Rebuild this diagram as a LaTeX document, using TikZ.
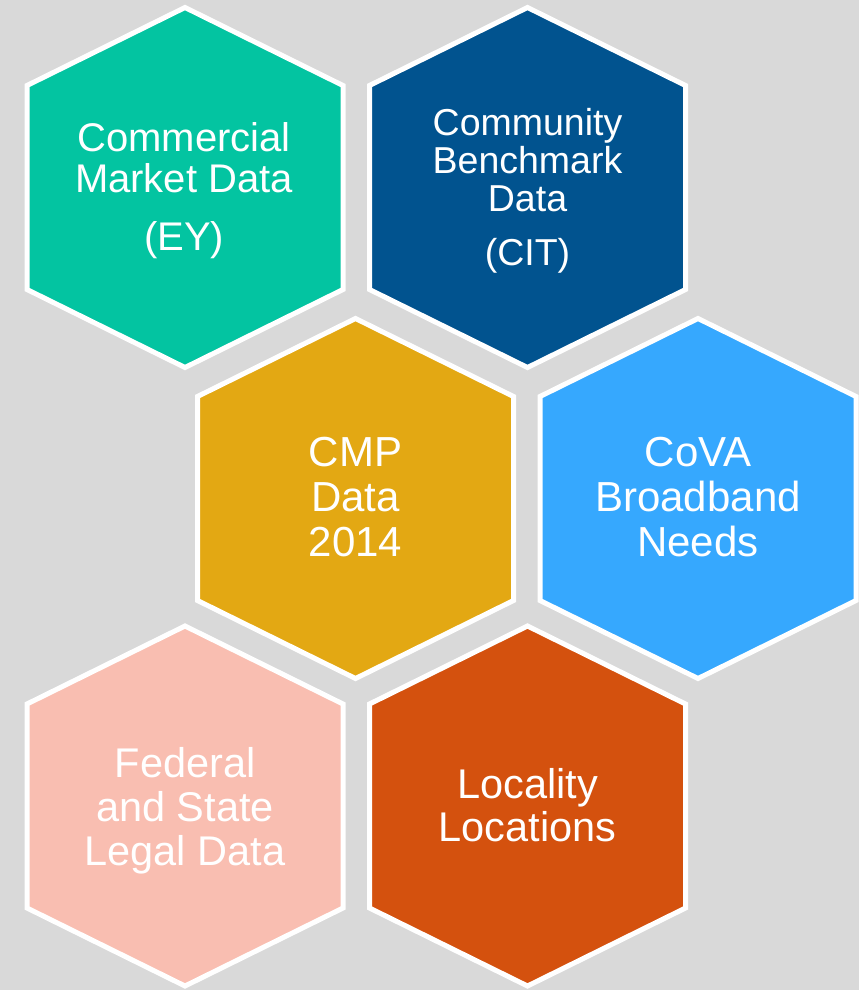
\documentclass[tikz,border=0pt]{standalone}
\usepackage{fontspec}
\setmainfont{Liberation Sans}
\definecolor{bgGrey}{HTML}{D9D9D9}
\definecolor{cTeal}{HTML}{03C4A1}
\definecolor{cNavy}{HTML}{01538F}
\definecolor{cGold}{HTML}{E3A813}
\definecolor{cSky}{HTML}{36A8FE}
\definecolor{cPink}{HTML}{F9BEB1}
\definecolor{cRust}{HTML}{D4510E}
% hexagon cell: centre x, centre y, fill colour
\newcommand\hexcell[3]{%
  \filldraw[hexcellstyle, fill=#3] (#1,#2) ++(0,-180) -- ++(158,78) -- ++(0,204)
    -- ++(-158,78) -- ++(-158,-78) -- ++(0,-204) -- cycle;}
\tikzset{
  hexcellstyle/.style={draw=white, line width=5pt, line join=miter},
  % anchored on the baseline of the last line of each label
  celltext/.style={text=white, align=center, anchor=base, inner sep=0pt}
}
\begin{document}
\begin{tikzpicture}[x=1pt, y=-1pt]
  \fill[bgGrey] (0,0) rectangle (859,990);
  \useasboundingbox (0,0) rectangle (859,990);

  \hexcell{185}{187.5}{cTeal}
  \hexcell{527.5}{187.5}{cNavy}
  \hexcell{355.5}{498.5}{cGold}
  \hexcell{698}{498.5}{cSky}
  \hexcell{185}{806}{cPink}
  \hexcell{527.5}{806}{cRust}

  \node[celltext, font=\fontsize{40}{40.6}\selectfont] (commercial) at (184,250)
    {Commercial\\Market Data\\[17pt](EY)};
  \node[celltext, font=\fontsize{37.5}{38.3}\selectfont] (community) at (527.5,265)
    {Community\\Benchmark\\Data\\[15pt](CIT)};
  \node[celltext, font=\fontsize{42}{44.7}\selectfont] (cmp) at (355.5,556)
    {CMP\\Data\\2014};
  \node[celltext, font=\fontsize{42}{44.7}\selectfont] (cova) at (698,556)
    {CoVA\\Broadband\\Needs};
  \node[celltext, font=\fontsize{41.5}{44}\selectfont] (legal) at (185,865)
    {Federal\\and State\\Legal Data};
  \node[celltext, font=\fontsize{41.5}{43.4}\selectfont] (locality) at (527.5,841.7)
    {Locality\\Locations};
\end{tikzpicture}
\end{document}
